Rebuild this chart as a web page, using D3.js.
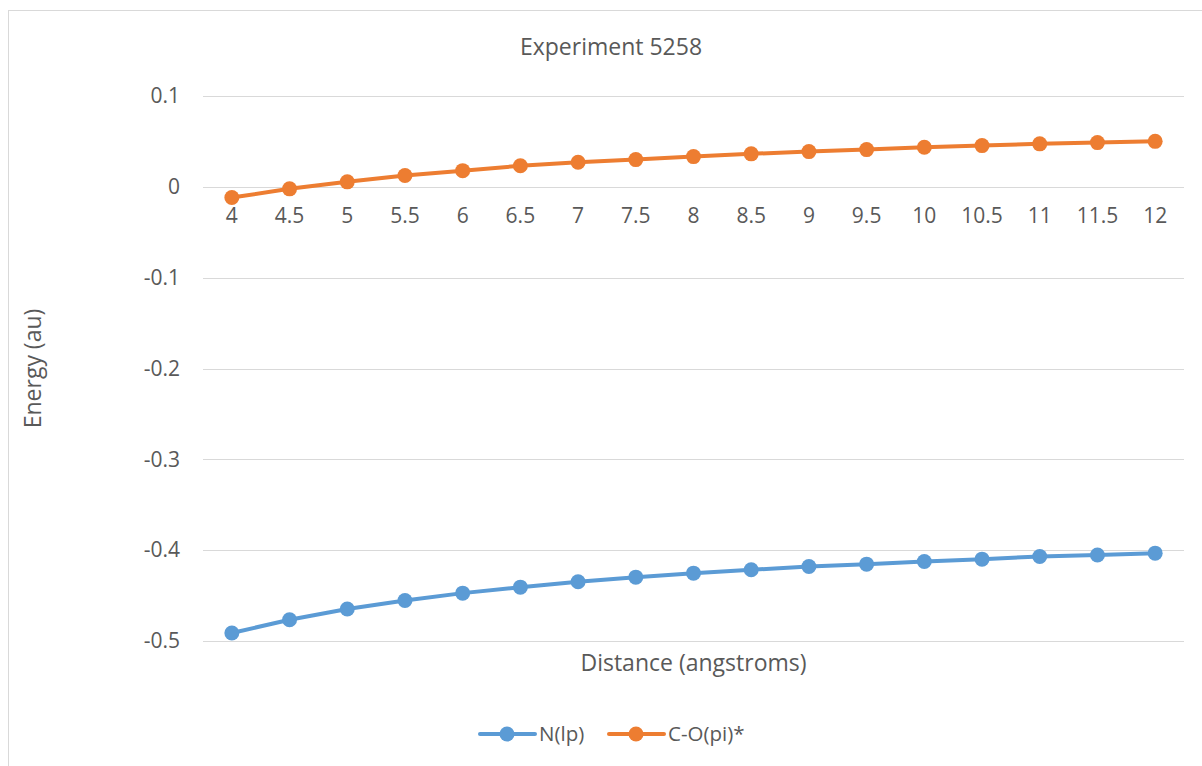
<!DOCTYPE html>
<html>
<head>
<meta charset="utf-8">
<script src="https://cdn.jsdelivr.net/npm/d3@7"></script>
<style>
  body { margin: 0; background: #fff; }
  text { font-family: "Open Sans", sans-serif; fill: #595959; }
</style>
</head>
<body>
<div id="chart"></div>
<script>
// chart data
var distances = ["4", "4.5", "5", "5.5", "6", "6.5", "7", "7.5", "8", "8.5", "9", "9.5", "10", "10.5", "11", "11.5", "12"];
var nLp = [-0.4912, -0.4766, -0.4648, -0.4554, -0.4473, -0.4407, -0.4348, -0.4297, -0.4253, -0.4216, -0.4180, -0.4154, -0.4125, -0.4099, -0.4069, -0.4054, -0.4033];
var coPi = [-0.0118, -0.0022, 0.0055, 0.0124, 0.0178, 0.0232, 0.0270, 0.0300, 0.0333, 0.0363, 0.0388, 0.0410, 0.0435, 0.0454, 0.0473, 0.0487, 0.0501];
var yTicks = [0.1, 0, -0.1, -0.2, -0.3, -0.4, -0.5];
var yTickLabels = ["0.1", "0", "-0.1", "-0.2", "-0.3", "-0.4", "-0.5"];
var seriesNames = ["N(lp)", "C-O(pi)*"];
var colors = ["#5B9BD5", "#ED7D31"];

let width = 1202
let height = 766

var svg = d3.select("#chart")
    .append("svg")
    .attr("width", width)
    .attr("height", height);

// chart area border
svg.append("rect")
    .attr("x", 8.5).attr("y", 10.5)
    .attr("width", 1210).attr("height", 770)
    .attr("fill", "none")
    .attr("stroke", "#D9D9D9");

var plotLeft = 203, plotRight = 1184, plotTop = 96, plotBottom = 641;

var xScale = d3.scaleBand()
    .domain(distances)
    .range([plotLeft, plotRight])
    .padding(0);
var yScale = d3.scaleLinear()
    .domain([-0.5, 0.1])
    .range([plotBottom, plotTop]);

function xPos(d) { return xScale(d) + xScale.bandwidth() / 2; }

// gridlines
svg.append("g")
    .selectAll("line")
    .data(yTicks)
    .enter()
    .append("line")
    .attr("x1", plotLeft).attr("x2", plotRight)
    .attr("y1", function(d) { return Math.round(yScale(d)) + 0.5; })
    .attr("y2", function(d) { return Math.round(yScale(d)) + 0.5; })
    .attr("stroke", "#D9D9D9")
    .attr("stroke-width", 1);

// y axis labels
var yAxis = d3.axisLeft(yScale)
    .tickValues(yTicks)
    .tickSize(0)
    .tickPadding(23)
    .tickFormat(function(d, i) { return yTickLabels[i]; });
var yG = svg.append("g")
    .attr("transform", "translate(" + plotLeft + ",0)")
    .call(yAxis);
yG.select(".domain").remove();
yG.selectAll("text").attr("font-size", 21).attr("fill", "#595959")
    .style("font-family", "'Open Sans', sans-serif");

// x axis labels sit under the zero line
var xAxis = d3.axisBottom(xScale).tickSize(0).tickPadding(21);
var xG = svg.append("g")
    .attr("transform", "translate(0," + yScale(0) + ")")
    .call(xAxis);
xG.select(".domain").remove();
xG.selectAll("text").attr("font-size", 21).attr("fill", "#595959")
    .style("font-family", "'Open Sans', sans-serif");

// series
var allSeries = [nLp, coPi];
var line = d3.line()
    .x(function(d, i) { return xPos(distances[i]); })
    .y(function(d) { return yScale(d); });

allSeries.forEach(function(vals, s) {
    svg.append("path")
        .datum(vals)
        .attr("d", line)
        .attr("fill", "none")
        .attr("stroke", colors[s])
        .attr("stroke-width", 4)
        .attr("stroke-linejoin", "round")
        .attr("stroke-linecap", "round");
    svg.append("g")
        .selectAll("circle")
        .data(vals)
        .enter()
        .append("circle")
        .attr("cx", function(d, i) { return xPos(distances[i]); })
        .attr("cy", function(d) { return yScale(d); })
        .attr("r", 7.5)
        .attr("fill", colors[s]);
});

// titles
svg.append("text")
    .attr("x", 611).attr("y", 55)
    .attr("text-anchor", "middle")
    .attr("font-size", 23)
    .text("Experiment 5258");

svg.append("text")
    .attr("x", (plotLeft + plotRight) / 2).attr("y", 671)
    .attr("text-anchor", "middle")
    .attr("font-size", 23)
    .text("Distance (angstroms)");

svg.append("text")
    .attr("transform", "translate(33," + (plotTop + plotBottom) / 2 + ") rotate(-90)")
    .attr("text-anchor", "middle")
    .attr("dy", "0.35em")
    .attr("font-size", 23)
    .text("Energy (au)");

// legend
var legendX = [480, 609];
var legend = svg.append("g");
seriesNames.forEach(function(name, s) {
    var lx = legendX[s], ly = 734;
    legend.append("line")
        .attr("x1", lx).attr("x2", lx + 55)
        .attr("y1", ly).attr("y2", ly)
        .attr("stroke", colors[s]).attr("stroke-width", 4)
        .attr("stroke-linecap", "round");
    legend.append("circle")
        .attr("cx", lx + 27).attr("cy", ly).attr("r", 7.5)
        .attr("fill", colors[s]);
    legend.append("text")
        .attr("x", lx + 59).attr("y", ly)
        .attr("dy", "0.35em")
        .attr("font-size", 20.5)
        .text(name);
});
</script>
</body>
</html>
